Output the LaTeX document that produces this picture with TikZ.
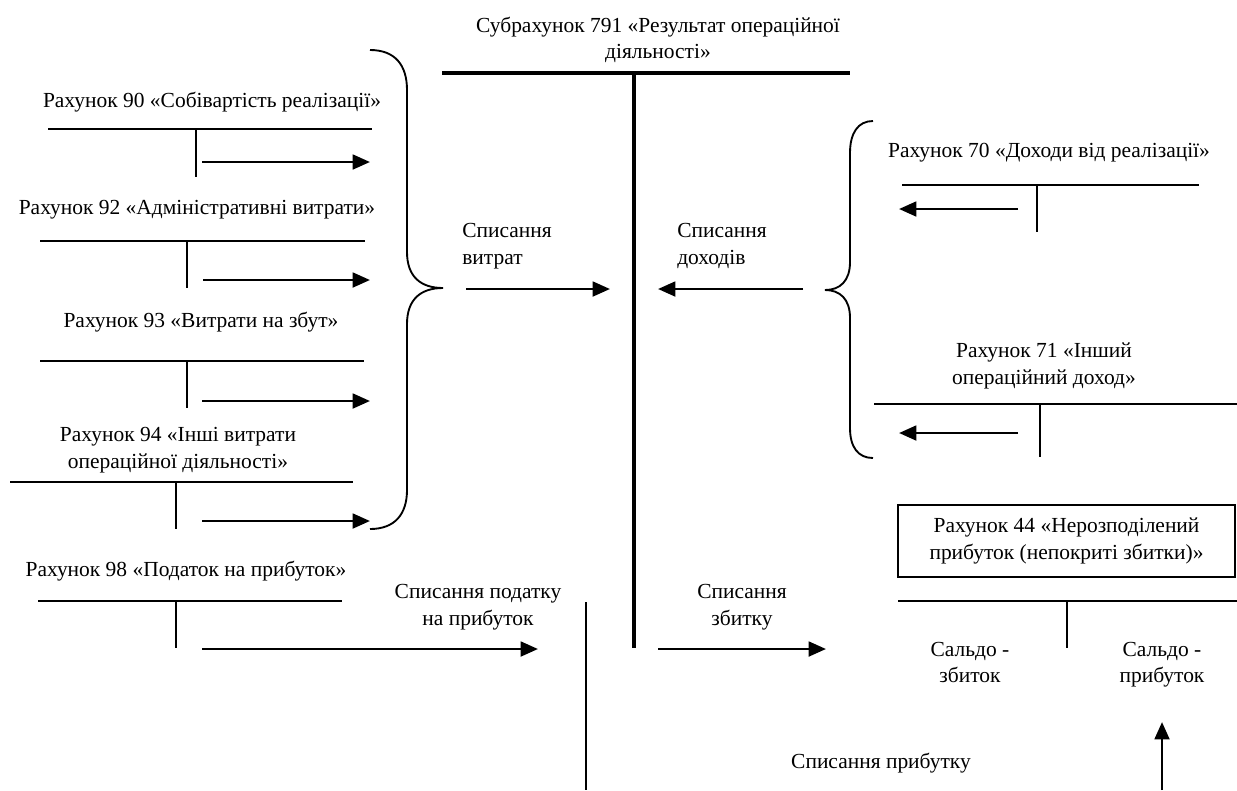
\documentclass[tikz,border=0pt]{standalone}
\usepackage{fontspec}
\setmainfont{Liberation Serif}
\usetikzlibrary{arrows.meta}
\tikzset{
  lbl/.style={font=\fontsize{16.1}{19.8}\selectfont, inner sep=0pt, align=center},
  tline/.style={line width=1.2pt},
  bigt/.style={line width=3pt},
  flow/.style={line width=2.1pt, -{Triangle[length=13pt,width=11pt]}},
  bracket/.style={line width=1.4pt},
  framed/.style={lbl, draw, line width=1.2pt, minimum width=337*0.75pt, minimum height=72*0.75pt}
}
\begin{document}
\begin{tikzpicture}[x=0.75pt,y=-0.75pt]
\useasboundingbox (0,0) rectangle (1237,790);

% main account 791
\node[lbl] (t791) at (658,40) {Субрахунок 791 «Результат операційної\\діяльності»};
\draw[bigt] (442,72.5) -- (850,72.5);
\draw[bigt] (634,72.5) -- (634,648);

% expense accounts
\node[lbl] (a90) at (212,102) {Рахунок 90 «Собівартість реалізації»};
\draw[tline] (48,129) -- (372,129) (196,129) -- (196,177);
\coordinate (s90) at (202,162); \coordinate (e90) at (370,162);
\draw[flow] (s90) -- (e90);

\node[lbl] (a92) at (197,210) {Рахунок 92 «Адміністративні витрати»};
\draw[tline] (40,241) -- (365,241) (187,241) -- (187,288);
\coordinate (s92) at (203,280); \coordinate (e92) at (370,280);
\draw[flow] (s92) -- (e92);

\node[lbl] (a93) at (201,322) {Рахунок 93 «Витрати на збут»};
\draw[tline] (40,361) -- (364,361) (187,361) -- (187,408);
\coordinate (s93) at (202,401); \coordinate (e93) at (370,401);
\draw[flow] (s93) -- (e93);

\node[lbl] (a94) at (178,450) {Рахунок 94 «Інші витрати\\операційної діяльності»};
\draw[tline] (10,482) -- (353,482) (176,482) -- (176,529);
\coordinate (s94) at (202,521); \coordinate (e94) at (370,521);
\draw[flow] (s94) -- (e94);

\node[lbl] (a98) at (186,571) {Рахунок 98 «Податок на прибуток»};
\draw[tline] (38,601) -- (342,601) (176,601) -- (176,648);
\coordinate (s98) at (202,649); \coordinate (e98) at (538,649);
\draw[flow] (s98) -- (e98);

% brace gathering the expenses
\draw[bracket] (370,50) .. controls (395,50) and (407,65) .. (407,90) -- (407,252)
  .. controls (407,276) and (420,288) .. (443,288)
  .. controls (420,288) and (407,300) .. (407,324) -- (407,490)
  .. controls (407,514) and (395,529) .. (370,529);

% write-off of expenses and revenues
\node[lbl, anchor=west, align=left] (wexp) at (462,246) {Списання\\витрат};
\coordinate (sexp) at (466,289); \coordinate (eexp) at (610,289);
\draw[flow] (sexp) -- (eexp);

\node[lbl, anchor=west, align=left] (winc) at (677,246) {Списання\\доходів};
\coordinate (sinc) at (803,289); \coordinate (einc) at (658,289);
\draw[flow] (sinc) -- (einc);

% revenue accounts
\node[lbl] (a70) at (1049,153) {Рахунок 70 «Доходи від реалізації»};
\draw[tline] (902,185) -- (1199,185) (1037,185) -- (1037,232);
\coordinate (s70) at (1018,209); \coordinate (e70) at (899,209);
\draw[flow] (s70) -- (e70);

\node[lbl] (a71) at (1044,366) {Рахунок 71 «Інший\\операційний доход»};
\draw[tline] (874,404) -- (1237,404) (1040,404) -- (1040,457);
\coordinate (s71) at (1018,433); \coordinate (e71) at (899,433);
\draw[flow] (s71) -- (e71);

% brace gathering the revenues
\draw[bracket] (873,121) .. controls (858,121) and (850,133) .. (850,153) -- (850,262)
  .. controls (850,281) and (840,290) .. (825,290)
  .. controls (840,290) and (850,299) .. (850,318) -- (850,428)
  .. controls (850,447) and (858,458) .. (873,458);

% tax and loss / profit write-offs
\node[lbl] (wtax) at (478,607) {Списання податку\\на прибуток};
\coordinate (ptop) at (586,602); \coordinate (pbot) at (586,790);
\draw[tline] (ptop) -- (pbot);

\node[lbl] (wloss) at (742,607) {Списання\\збитку};
\coordinate (sloss) at (658,649); \coordinate (eloss) at (826,649);
\draw[flow] (sloss) -- (eloss);

% account 44
\node[framed] (a44) at (1066.5,541) {Рахунок 44 «Нерозподілений\\прибуток (непокриті збитки)»};
\draw[tline] (898,601) -- (1237,601) (1067,601) -- (1067,648);
\node[lbl] (dr44) at (970,664) {Сальдо -\strut\\збиток\strut};
\node[lbl] (cr44) at (1162,664) {Сальдо -\strut\\прибуток\strut};

\node[lbl] (wprof) at (881,763) {Списання прибутку};
\coordinate (sprof) at (1162,790); \coordinate (eprof) at (1162,722);
\draw[flow] (sprof) -- (eprof);
\end{tikzpicture}
\end{document}
